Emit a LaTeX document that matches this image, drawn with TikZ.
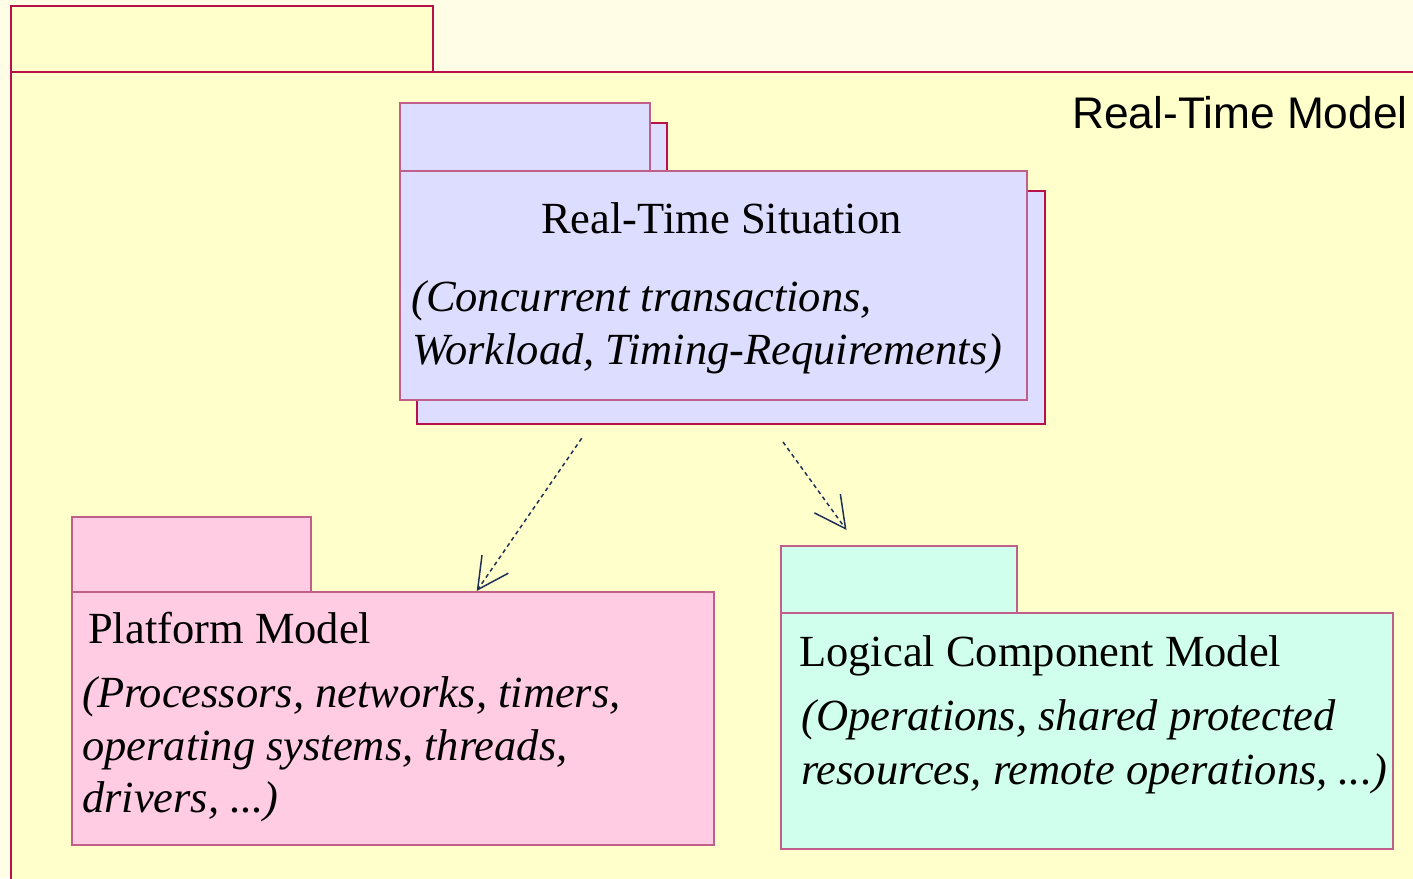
\documentclass[tikz,border=0pt]{standalone}
\usepackage{fontspec}
\setmainfont{Liberation Serif}
\newfontfamily\labelsans{Liberation Sans}
\usetikzlibrary{arrows.meta}

\definecolor{pagebg}{HTML}{FFFDE6}
\definecolor{modelbg}{HTML}{FFFFCC}
\definecolor{pkgline}{HTML}{B8104A}
\definecolor{pkgsoft}{HTML}{C0608A}
\definecolor{situationbg}{HTML}{DDDDFF}
\definecolor{platformbg}{HTML}{FFCCE3}
\definecolor{logicalbg}{HTML}{D0FFEE}
\definecolor{depline}{HTML}{1F3158}

\tikzset{
  pkg/.style={draw=pkgline, line width=1.3pt, inner sep=0pt, outer sep=0pt,
              anchor=north west, rectangle},
  softpkg/.style={pkg, draw=pkgsoft},
  title/.style={anchor=base west, inner sep=0pt, font=\fontsize{44.5}{52}\selectfont},
  note/.style={title, font=\fontsize{44.5}{52}\selectfont\itshape},
  dependency/.style={draw=depline, line width=1.5pt, dash pattern=on 4pt off 3.5pt,
              -{Straight Barb[length=31pt, width=32pt, line width=1.5pt]}},
}

\begin{document}
\begin{tikzpicture}[x=1pt, y=-1pt]
  \useasboundingbox (0,0) rectangle (1413,878);
  \clip (0,0) rectangle (1413,878);
  \fill[pagebg] (0,0) rectangle (1413,878);

  % enclosing package: Real-Time Model
  \node[pkg, fill=modelbg, minimum width=422pt, minimum height=66pt] (rtmTab) at (11,6) {};
  \node[pkg, fill=modelbg, minimum width=1420pt, minimum height=820pt] (rtmBody) at (11,72) {};
  \node[anchor=base east, inner sep=0pt, font=\labelsans\fontsize{44.3}{52}\selectfont]
    (rtmName) at (1408,128) {Real-Time Model};

  % stacked package: Real-Time Situation (back copy, then front)
  \node[pkg, fill=situationbg, minimum width=250pt, minimum height=68pt] (rtsBackTab) at (417,123) {};
  \node[pkg, fill=situationbg, minimum width=628pt, minimum height=233pt] (rtsBackBody) at (417,191) {};
  \node[softpkg, fill=situationbg, minimum width=250pt, minimum height=68pt] (rtsTab) at (400,103) {};
  \node[softpkg, fill=situationbg, minimum width=627pt, minimum height=229pt] (rtsBody) at (400,171) {};
  \node[title] (rtsName) at (541,233) {Real-Time Situation};
  \node[note] (rtsNoteA) at (411,311) {(Concurrent transactions,};
  \node[note] (rtsNoteB) at (412,364) {Workload, Timing-Requirements)};

  % package: Platform Model
  \node[softpkg, fill=platformbg, minimum width=239pt, minimum height=75pt] (platTab) at (72,517) {};
  \node[softpkg, fill=platformbg, minimum width=642pt, minimum height=253pt] (platBody) at (72,592) {};
  \node[title] (platName) at (88,643) {Platform Model};
  \node[note] (platNoteA) at (82,707) {(Processors, networks, timers,};
  \node[note] (platNoteB) at (82,760) {operating systems, threads,};
  \node[note] (platNoteC) at (82,812) {drivers, ...)};

  % package: Logical Component Model
  \node[softpkg, fill=logicalbg, minimum width=236pt, minimum height=67pt] (logTab) at (781,546) {};
  \node[softpkg, fill=logicalbg, minimum width=612pt, minimum height=236pt] (logBody) at (781,613) {};
  \node[title] (logName) at (799,666) {Logical Component Model};
  \node[note] (logNoteA) at (801,730) {(Operations, shared protected};
  \node[note] (logNoteB) at (801,784) {resources, remote operations, ...)};

  % dependencies
  \coordinate (depPlatFrom) at (581.7,438.3);
  \coordinate (depPlatTo) at (476.7,591);
  \coordinate (depLogFrom) at (783,442);
  \coordinate (depLogTo) at (846.5,530);
  \draw[dependency] (depPlatFrom) -- (depPlatTo);
  \draw[dependency] (depLogFrom) -- (depLogTo);
\end{tikzpicture}
\end{document}
